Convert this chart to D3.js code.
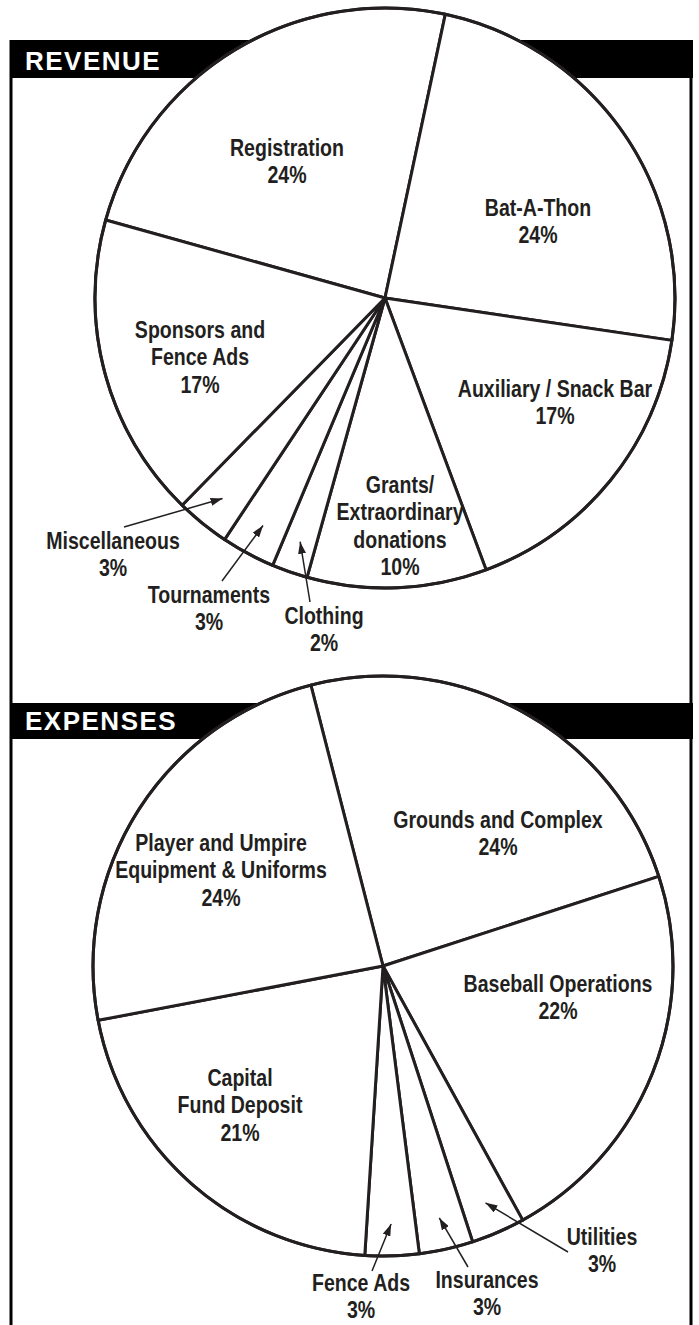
<!DOCTYPE html>
<html>
<head>
<meta charset="utf-8">
<script src="https://cdn.jsdelivr.net/npm/d3@7"></script>
<style>
  html, body { margin: 0; padding: 0; background: #fff; }
  svg { display: block; }
  .lbl { font-family: "Liberation Sans", Arial, Helvetica, sans-serif; font-weight: 700; font-size: 23px; fill: #231f20; }
  .head { font-family: "Liberation Sans", Arial, sans-serif; font-weight: 700; font-size: 26px; fill: #fff; letter-spacing: 1.5px; }
</style>
</head>
<body>
<svg id="chart" width="699" height="1325"></svg>
<script>
// revenue, clockwise from the Registration wedge
const revenueCategories = ['Registration', 'Bat-A-Thon', 'Auxiliary / Snack Bar', 'Grants/ Extraordinary donations', 'Clothing', 'Tournaments', 'Miscellaneous', 'Sponsors and Fence Ads'];
const revenueLines = [['Registration'], ['Bat-A-Thon'], ['Auxiliary / Snack Bar'], ['Grants/', 'Extraordinary', 'donations'], ['Clothing'], ['Tournaments'], ['Miscellaneous'], ['Sponsors and', 'Fence Ads']];
const revenueValues = [24, 24, 17, 10, 2, 3, 3, 17];

// expenses, clockwise from Grounds and Complex
const expenseCategories = ['Grounds and Complex', 'Baseball Operations', 'Utilities', 'Insurances', 'Fence Ads', 'Capital Fund Deposit', 'Player and Umpire Equipment & Uniforms'];
const expenseLines = [['Grounds and Complex'], ['Baseball Operations'], ['Utilities'], ['Insurances'], ['Fence Ads'], ['Capital', 'Fund Deposit'], ['Player and Umpire', 'Equipment & Uniforms']];
const expenseValues = [24, 22, 3, 3, 3, 21, 24];

const ink = '#231f20';
const radio = 290;
const interlineado = 27.5;
const estrechar = 0.85; // no hay fuente condensada instalada: se estrecha a mano
const svg = d3.select('#chart');

svg.append('defs').append('marker')
    .attr('id', 'flecha')
    .attr('viewBox', '0 0 12 8')
    .attr('refX', 12).attr('refY', 4)
    .attr('markerWidth', 12).attr('markerHeight', 8)
    .attr('markerUnits', 'userSpaceOnUse')
    .attr('orient', 'auto')
    .append('path').attr('d', 'M0,0 L12,4 L0,8 Z').attr('fill', ink);

// marco y barras de titulo
svg.append('rect').attr('x', 10).attr('y', 40).attr('width', 683).attr('height', 38).attr('fill', '#000');
svg.append('rect').attr('x', 10).attr('y', 703).attr('width', 683).attr('height', 36).attr('fill', '#000');
svg.append('line').attr('x1', 11).attr('x2', 11).attr('y1', 40).attr('y2', 1325).attr('stroke', '#000').attr('stroke-width', 3);
svg.append('line').attr('x1', 691).attr('x2', 691).attr('y1', 40).attr('y2', 1325).attr('stroke', '#000').attr('stroke-width', 3);
svg.append('text').attr('class', 'head').attr('x', 25).attr('y', 70).text('REVENUE');
svg.append('text').attr('class', 'head').attr('x', 25).attr('y', 730).text('EXPENSES');

function dibujarTarta(cfg) {
    const datos = cfg.categories.map((c, i) => ({ name: c, lines: cfg.lines[i], value: cfg.values[i] }));
    const inicio = cfg.startDeg * Math.PI / 180;
    const tarta = d3.pie().sort(null).value(d => d.value).startAngle(inicio).endAngle(inicio + 2 * Math.PI);
    const porciones = tarta(datos);
    const arco = d3.arc().innerRadius(0).outerRadius(radio);
    const arcoFlecha = d3.arc().innerRadius(radio * 0.89).outerRadius(radio * 0.89);

    const g = svg.append('g').attr('transform', `translate(${cfg.cx},${cfg.cy})`);

    g.selectAll('path.slice')
        .data(porciones)
        .join('path')
        .attr('class', 'slice')
        .attr('d', arco)
        .attr('fill', '#fff')
        .attr('stroke', ink)
        .attr('stroke-width', 3)
        .attr('stroke-linejoin', 'round');

    g.append('circle').attr('r', radio).attr('fill', 'none').attr('stroke', ink).attr('stroke-width', 3);

    porciones.forEach((p, i) => {
        const pos = cfg.labels[i];
        const texto = g.append('text')
            .attr('class', 'lbl')
            .attr('text-anchor', 'middle')
            .attr('transform', `translate(${pos[0]},${pos[1]}) scale(${estrechar},1)`);
        p.data.lines.concat([p.data.value + '%']).forEach((linea, k) => {
            texto.append('tspan').attr('x', 0).attr('dy', k === 0 ? 0 : interlineado).text(linea);
        });

        // las porciones pequeñas llevan la etiqueta fuera con flecha
        const cola = cfg.tails[i];
        if (cola) {
            const punta = arcoFlecha.centroid(p);
            g.append('line')
                .attr('x1', cola[0]).attr('y1', cola[1])
                .attr('x2', punta[0]).attr('y2', punta[1])
                .attr('stroke', ink).attr('stroke-width', 1.5)
                .attr('marker-end', 'url(#flecha)');
        }
    });
}

dibujarTarta({
    categories: revenueCategories, lines: revenueLines, values: revenueValues,
    cx: 385, cy: 298, startDeg: -74.4,
    labels: [[-98, -142], [153, -82], [170, 99], [15, 195], [-61, 326], [-176, 305], [-272, 251], [-185, 40]],
    tails: [null, null, null, null, [-75, 304], [-163, 283], [-261, 229], null]
});

dibujarTarta({
    categories: expenseCategories, lines: expenseLines, values: expenseValues,
    cx: 383, cy: 966, startDeg: -14.4,
    labels: [[115, -138], [175, 26], [219, 279], [104, 322], [-22, 325], [-143, 120], [-162, -115]],
    tails: [null, null, [185, 286], [85, 301], [-11, 305], null, null]
});
</script>
</body>
</html>
